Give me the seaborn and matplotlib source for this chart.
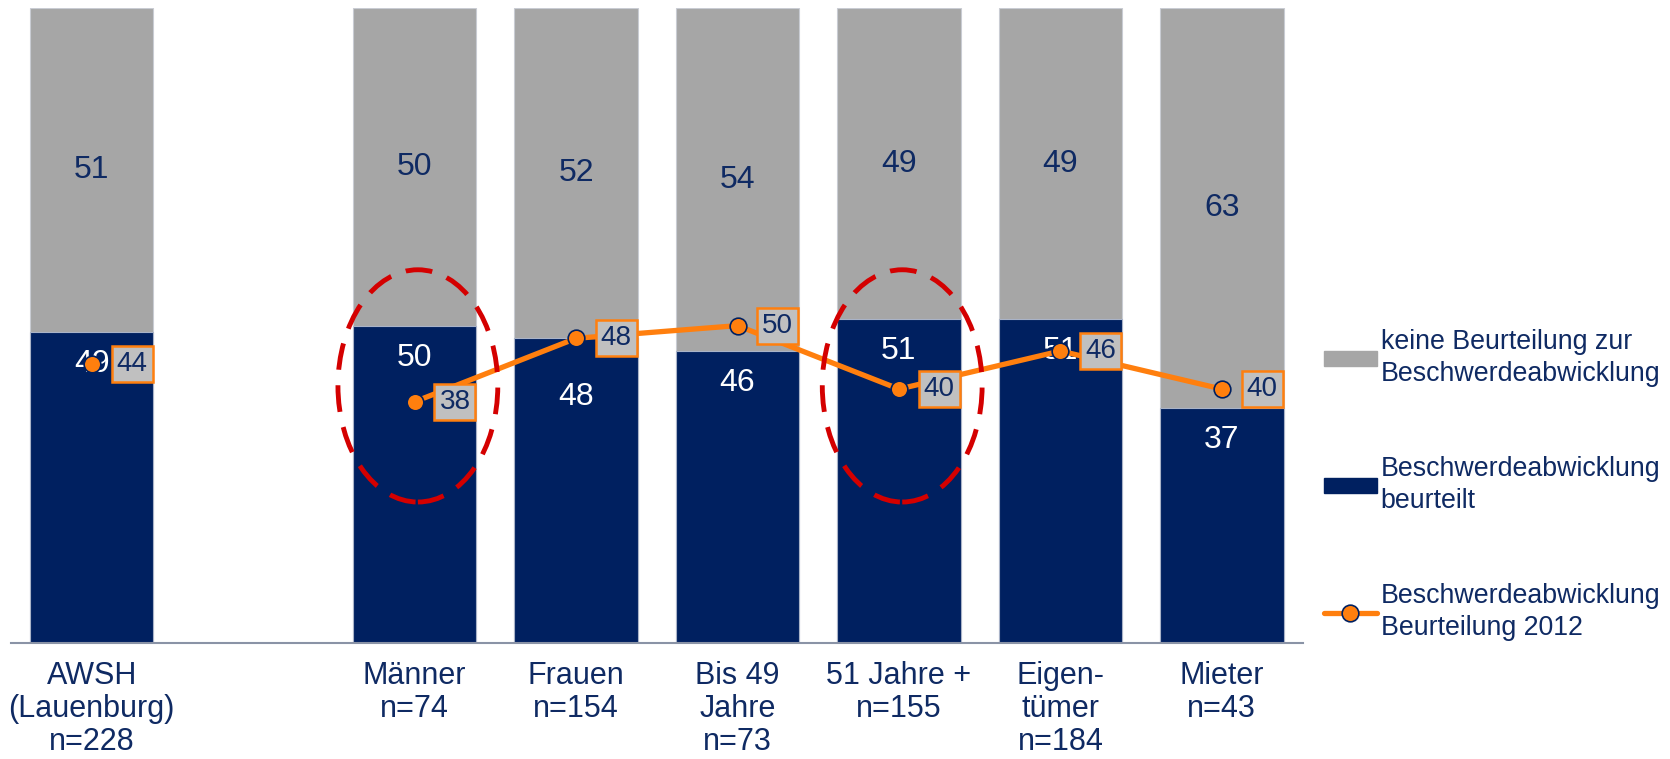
import matplotlib
matplotlib.use("Agg")
import matplotlib.pyplot as plt
from matplotlib.patches import Ellipse, Patch
from matplotlib.lines import Line2D
import seaborn as sns
import numpy as np
import pandas as pd

# ---------- data ----------
categories = ["AWSH\n(Lauenburg)\nn=228", " ", "Männer\nn=74", "Frauen\nn=154",
              "Bis 49\nJahre\nn=73", "51 Jahre +\nn=155", "Eigen-\ntümer\nn=184",
              "Mieter\nn=43"]
beurteilt = [49, np.nan, 50, 48, 46, 51, 51, 37]
keine = [51, np.nan, 50, 52, 54, 49, 49, 63]
beurteilung_2012 = [44, np.nan, 38, 48, 50, 40, 46, 40]
highlighted = ["Männer\nn=74", "51 Jahre +\nn=155"]

legend_labels = ["keine Beurteilung zur\nBeschwerdeabwicklung",
                 "Beschwerdeabwicklung\nbeurteilt",
                 "Beschwerdeabwicklung\nBeurteilung 2012"]

GRAY = "#A6A6A6"
NAVY = "#002060"
ORANGE = "#FF7F0E"
TEXT = "#0F2A63"
RED = "#D40000"

sns.set_style("white")
plt.rcParams["font.family"] = ["Liberation Sans", "DejaVu Sans"]
FS_BAR = 23
FS_TICK = 22
FS_LEG = 19.3
FS_BOX = 20

df = pd.DataFrame({"cat": categories, "beurteilt": beurteilt, "keine": keine})
df["total"] = df["beurteilt"] + df["keine"]

fig = plt.figure(figsize=(16.7, 7.59), dpi=100)
ax = fig.add_axes([0.0066, 0.153, 0.7734, 0.836])

# stacked bars: gray total first, navy part in front
sns.barplot(data=df, x="cat", y="total", order=categories, color=GRAY,
            width=0.765, edgecolor="#C9CCD3", linewidth=0.8, saturation=1,
            errorbar=None, ax=ax)
sns.barplot(data=df, x="cat", y="beurteilt", order=categories, color=NAVY,
            width=0.765, edgecolor="#A9B3C8", linewidth=0.8, saturation=1,
            errorbar=None, ax=ax)

# bar value labels
for i, (b, k) in enumerate(zip(beurteilt, keine)):
    if np.isnan(b):
        continue
    ax.text(i, b + k / 2, f"{k:.0f}", ha="center", va="center",
            fontsize=FS_BAR, color=TEXT)
    drop = -42 if categories[i].startswith("Frauen") else -23
    ax.annotate(f"{b:.0f}", (i, b), xytext=(0, drop), textcoords="offset points",
                ha="center", va="center", fontsize=FS_BAR, color="white")

# 2012 line
xs = np.arange(len(categories))
ax.plot(xs, beurteilung_2012, color=ORANGE, linewidth=3.8, marker="o",
        markersize=12, markerfacecolor=ORANGE, markeredgecolor=NAVY,
        markeredgewidth=1.2, zorder=5)
for i, v in enumerate(beurteilung_2012):
    if np.isnan(v):
        continue
    ax.annotate(f"{v:.0f}", (i, v), xytext=(29, 0), textcoords="offset points",
                ha="center", va="center", fontsize=FS_BOX, color=TEXT, zorder=6,
                bbox=dict(boxstyle="square,pad=0.18", facecolor="#C0C0C0",
                          edgecolor=ORANGE, linewidth=1.8))

# highlight ellipses
for cat in highlighted:
    i = categories.index(cat)
    ax.add_patch(Ellipse((i + 0.02, 40.5), 0.99, 36.6, fill=False,
                         edgecolor=RED, linewidth=3.5,
                         linestyle=(0, (5.5, 3.2)), zorder=7))

# axes styling
ax.set_xlim(-0.5, len(categories) - 0.5)
ax.set_ylim(0, 100)
ax.set_xlabel("")
ax.set_ylabel("")
ax.set_yticks([])
for side in ["top", "right", "left"]:
    ax.spines[side].set_visible(False)
ax.spines["bottom"].set_color("#8A93A6")
ax.spines["bottom"].set_linewidth(1.5)
ax.set_xticks(xs)
ax.set_xticklabels(categories, fontsize=FS_TICK, color=TEXT, linespacing=1.14)
ax.tick_params(axis="x", which="major", length=0, pad=13)
ax.set_xticks(np.arange(-0.5, len(categories)), minor=True)
ax.tick_params(axis="x", which="minor", length=8, width=1.5, color="#8A93A6",
               direction="out")

# legend
handles = [Patch(facecolor=GRAY, edgecolor=GRAY),
           Patch(facecolor=NAVY, edgecolor=NAVY),
           Line2D([0], [0], color=ORANGE, linewidth=3.8, marker="o",
                  markersize=12, markerfacecolor=ORANGE, markeredgecolor=NAVY,
                  markeredgewidth=1.2)]
leg = fig.legend(handles, legend_labels, loc="center left",
                 bbox_to_anchor=(0.793, 0.361), frameon=False, fontsize=FS_LEG,
                 labelcolor=TEXT, handlelength=1.95, handleheight=0.5,
                 handletextpad=0.15, labelspacing=2.55, borderpad=0,
                 borderaxespad=0)
for t in leg.get_texts():
    t.set_linespacing(1.33)

fig.savefig("out.png", dpi=100)
plt.close(fig)
